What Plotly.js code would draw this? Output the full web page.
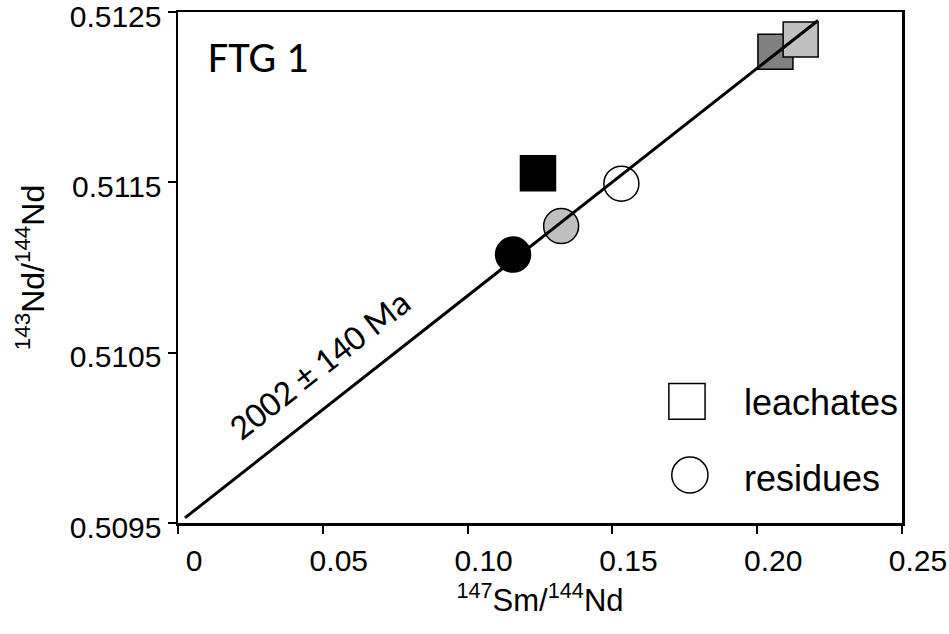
<!DOCTYPE html>
<html>
<head>
<meta charset="utf-8">
<script src="https://cdn.plot.ly/plotly-3.0.1.min.js"></script>
<style>html,body{margin:0;padding:0;background:#fff;}#chart{width:949px;height:634px;}</style>
</head>
<body>
<div id="chart"></div>
<script>
// ---- data ----
const leachatesX = [0.1243, 0.2063, 0.2150];
const leachatesY = [0.511554, 0.512266, 0.512339];
const leachatesColors = ['#000000', '#808080', '#c0c0c0'];

const residuesX = [0.1157, 0.1323, 0.1531];
const residuesY = [0.511076, 0.511243, 0.511492];
const residuesColors = ['#000000', '#bfbfbf', '#ffffff'];

const isochronX = [0.0024, 0.2210];
const isochronY = [0.50953, 0.51245];
const isochronLabel = '2002 ± 140 Ma';

const sampleName = 'FTG 1';
const legendLabels = ['leachates', 'residues'];

const xTickVals = [0, 0.05, 0.10, 0.15, 0.20, 0.25];
const xTickText = ['0', '0.05', '0.10', '0.15', '0.20', '0.25'];
const yTickVals = [0.5095, 0.5105, 0.5115, 0.5125];
const yTickText = ['0.5095', '0.5105', '0.5115', '0.5125'];

const xTitle = '<sup>147</sup>Sm/<sup>144</sup>Nd';
const yTitle = '<sup>143</sup>Nd/<sup>144</sup>Nd';

// ---- chart ----
const baseFont = 'Liberation Sans, Arial, sans-serif';
const calFont = 'Carlito, Lato, sans-serif';

const traces = [
  {
    type: 'scatter', mode: 'markers', name: legendLabels[0],
    x: leachatesX, y: leachatesY, showlegend: false, cliponaxis: false,
    marker: {symbol: 'square', size: 35, color: leachatesColors, line: {color: '#000', width: 1.5}}
  },
  {
    type: 'scatter', mode: 'markers', name: legendLabels[1],
    x: residuesX, y: residuesY, showlegend: false, cliponaxis: false,
    marker: {symbol: 'circle', size: 35, color: residuesColors, line: {color: '#000', width: 1.5}}
  },
  {
    type: 'scatter', mode: 'lines', name: 'isochron',
    x: isochronX, y: isochronY, showlegend: false, cliponaxis: false,
    line: {color: '#000', width: 3}
  }
];

const layout = {
  width: 949, height: 634,
  margin: {l: 178, r: 47, t: 12, b: 111},
  paper_bgcolor: '#fff', plot_bgcolor: '#fff',
  showlegend: false,
  font: {family: baseFont, color: '#000', size: 30},
  xaxis: {
    range: [-0.0000001, 0.2500001], tickmode: 'array', tickvals: xTickVals, ticktext: xTickText,
    showgrid: false, zeroline: false, showline: true, linewidth: 2.5, linecolor: '#000', mirror: true,
    ticks: 'outside', ticklen: 8, tickwidth: 2, tickcolor: '#000',
    ticklabelshift: 16, ticklabelstandoff: 1, ticklabeloverflow: 'allow',
    tickfont: {family: baseFont, size: 30, color: '#000'},
    title: {text: xTitle, font: {family: baseFont, size: 31, color: '#000'}, standoff: 14}
  },
  yaxis: {
    range: [0.50949999, 0.51250001], tickmode: 'array', tickvals: yTickVals, ticktext: yTickText,
    showgrid: false, zeroline: false, showline: true, linewidth: 2.5, linecolor: '#000', mirror: true,
    ticks: 'outside', ticklen: 8, tickwidth: 2, tickcolor: '#000',
    ticklabeloverflow: 'allow', ticklabelshift: 4,
    tickfont: {family: baseFont, size: 30, color: '#000'},
    title: {text: yTitle, font: {family: baseFont, size: 32, color: '#000'}, standoff: 16}
  },
  annotations: [
    {xref: 'paper', yref: 'paper', x: 0.038, y: 0.912, xanchor: 'left', yanchor: 'middle',
     text: sampleName, showarrow: false, font: {family: calFont, size: 44, color: '#000'}},
    {xref: 'x', yref: 'y', x: 0.049, y: 0.510426, xanchor: 'center', yanchor: 'middle',
     text: isochronLabel, textangle: -38, showarrow: false, font: {family: calFont, size: 36, color: '#000'}},
    {xref: 'paper', yref: 'paper', x: 0.779, y: 0.236, xanchor: 'left', yanchor: 'middle',
     text: legendLabels[0], showarrow: false, font: {family: baseFont, size: 36, color: '#000'}},
    {xref: 'paper', yref: 'paper', x: 0.779, y: 0.088, xanchor: 'left', yanchor: 'middle',
     text: legendLabels[1], showarrow: false, font: {family: baseFont, size: 36, color: '#000'}}
  ],
  shapes: [
    {type: 'rect', xref: 'paper', yref: 'paper', x0: 0.678, x1: 0.728, y0: 0.203, y1: 0.273,
     line: {color: '#000', width: 1.5}, fillcolor: '#fff'},
    {type: 'circle', xref: 'paper', yref: 'paper', x0: 0.682, x1: 0.732, y0: 0.0586, y1: 0.129,
     line: {color: '#000', width: 1.5}, fillcolor: '#fff'}
  ]
};

Plotly.newPlot('chart', traces, layout, {displayModeBar: false, staticPlot: true});
</script>
</body>
</html>
